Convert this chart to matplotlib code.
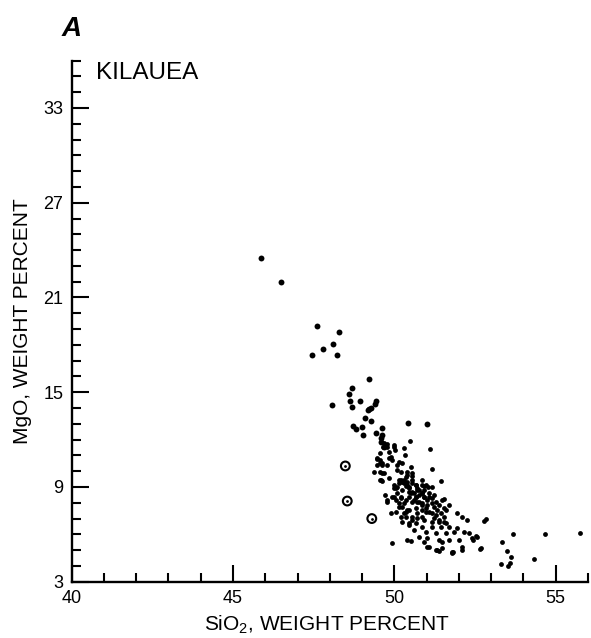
import numpy as np
import matplotlib
matplotlib.use("Agg")
import matplotlib.pyplot as plt
from matplotlib.ticker import MultipleLocator

plt.rcParams["font.family"] = ["Liberation Sans", "DejaVu Sans"]
plt.rcParams["mathtext.fontset"] = "custom"
plt.rcParams["mathtext.rm"] = "Liberation Sans"
plt.rcParams["mathtext.it"] = "Liberation Sans:italic"

# ── Data: SiO2 vs MgO, weight percent ───────────────────────────────────────
# picritic / high-MgO samples (larger dots)
big_sio2 = [45.86, 46.48, 47.59, 48.27, 48.11, 47.80, 47.44, 48.21, 49.20, 48.70,
            48.58, 48.08, 48.64, 48.70, 48.95, 49.44, 49.41, 49.20, 49.26, 49.10,
            49.26, 49.17, 48.73, 48.82, 49.01, 49.04, 49.44, 49.63, 49.60, 49.63,
            49.60, 49.69, 50.43, 51.02]
big_mgo = [23.50, 21.98, 19.20, 18.81, 18.05, 17.74, 17.36, 17.36, 15.84, 15.27,
           14.89, 14.19, 14.44, 14.06, 14.44, 14.44, 14.25, 13.94, 14.00, 13.37,
           13.18, 13.87, 12.87, 12.68, 12.81, 12.30, 12.42, 12.74, 12.11, 12.30,
           11.85, 11.53, 13.06, 13.00]

# main population (small dots)
sio2 = [50.49, 49.69, 49.78, 50.00, 49.66, 51.11, 50.31, 50.03, 49.84, 49.54,
        50.34, 49.90, 49.94, 49.47, 50.15, 50.25, 50.09, 50.52, 49.63, 49.78,
        51.18, 49.38, 49.69, 50.09, 50.22, 50.40, 49.84, 49.60, 50.37, 50.55,
        50.15, 50.25, 50.40, 50.87, 51.45, 50.00, 50.09, 50.37, 50.46, 50.68,
        50.93, 51.05, 51.24, 50.06, 50.25, 50.55, 50.77, 50.87, 49.72, 49.94,
        50.22, 50.46, 50.68, 51.08, 51.55, 50.55, 50.99, 51.15, 50.15, 50.31,
        50.40, 50.55, 50.71, 50.46, 50.62, 50.77, 50.93, 50.22, 50.37, 50.55,
        50.71, 50.87, 51.02, 51.48, 51.70, 50.25, 50.46, 50.68, 50.84, 50.99,
        51.15, 51.30, 51.61, 51.95, 52.10, 52.26, 52.78, 52.85, 50.31, 50.55,
        50.71, 50.93, 51.15, 51.39, 51.55, 51.70, 51.95, 51.86, 52.16, 52.32,
        52.41, 50.46, 50.68, 50.87, 51.18, 51.45, 50.62, 50.99, 51.30, 51.61,
        51.02, 50.77, 51.39, 51.48, 51.70, 52.01, 52.57, 50.40, 50.52, 51.08,
        51.33, 51.48, 51.77, 51.79, 52.10, 52.10, 52.69, 50.37, 50.15, 49.78,
        50.00, 50.06, 50.15, 49.90, 50.06, 50.22, 50.37, 50.25, 50.46, 50.55,
        51.02, 51.30, 51.39, 50.93, 49.94, 49.54, 49.54, 49.63, 49.47, 49.54,
        49.54, 49.63, 49.47, 49.63, 49.78, 49.84, 49.78, 50.00, 53.68, 54.67,
        55.76, 53.34, 53.49, 53.62, 53.31, 53.52, 53.59, 54.33, 52.66, 52.53,
        51.82, 52.44,
        # dense core
        50.40, 50.55, 50.68, 50.71, 50.84, 50.93, 51.02, 51.15, 51.24, 51.33,
        51.45, 51.55, 50.68, 50.77, 50.87, 50.99, 51.08, 50.52, 50.62, 50.46,
        50.31, 50.22, 50.93, 51.08, 51.18, 51.30, 51.39, 51.55, 50.84, 50.71,
        50.87, 51.24, 51.39, 51.61, 50.09, 50.00, 50.31, 50.40]
mgo = [11.91, 11.78, 11.72, 11.66, 11.53, 11.40, 11.47, 11.34, 11.21, 11.15,
       11.02, 10.90, 10.71, 10.77, 10.58, 10.52, 10.39, 10.26, 10.52, 10.39,
       10.14, 9.94, 9.88, 10.07, 9.94, 9.94, 9.57, 9.44, 9.63, 9.69,
       9.44, 9.31, 9.31, 9.44, 9.37, 9.12, 9.00, 9.06, 9.00, 9.12,
       9.06, 9.00, 8.49, 8.93, 8.81, 8.68, 8.81, 8.62, 8.49, 8.36,
       8.36, 8.36, 8.36, 8.36, 8.24, 9.88, 9.12, 9.00, 9.25, 9.44,
       9.12, 9.25, 8.93, 8.68, 8.62, 8.49, 8.36, 8.30, 8.17, 8.05,
       8.05, 7.98, 7.86, 8.17, 7.86, 7.73, 7.54, 7.67, 7.54, 7.42,
       7.35, 7.22, 7.54, 7.35, 7.10, 6.91, 6.84, 6.97, 7.35, 7.10,
       7.03, 6.91, 6.78, 6.91, 6.78, 6.46, 6.40, 6.15, 6.15, 6.08,
       5.77, 6.59, 6.72, 6.46, 6.46, 6.46, 6.27, 6.15, 6.08, 6.08,
       5.77, 5.83, 5.64, 5.51, 5.64, 5.64, 5.83, 5.64, 5.58, 5.20,
       5.01, 5.13, 4.88, 4.81, 5.20, 5.01, 5.13, 7.42, 7.98, 8.05,
       8.93, 8.17, 7.73, 7.35, 7.42, 7.10, 7.10, 6.78, 6.72, 6.91,
       5.20, 5.01, 4.94, 5.51, 5.45, 9.94, 9.44, 9.37, 10.83, 10.52,
       10.71, 10.39, 10.39, 9.88, 8.17, 10.83, 11.53, 11.53, 6.04, 6.04,
       6.10, 5.51, 4.96, 4.56, 4.14, 3.99, 4.18, 4.44, 5.07, 5.89,
       4.88, 5.64,
       # dense core
       9.76, 9.44, 9.12, 8.81, 8.62, 8.36, 8.17, 7.98, 7.73, 7.54,
       7.35, 7.10, 8.36, 8.05, 7.86, 7.67, 7.42, 8.62, 8.17, 8.93,
       9.25, 9.44, 8.81, 8.62, 8.30, 8.05, 7.86, 7.67, 9.12, 7.35,
       7.10, 7.03, 6.78, 6.72, 8.62, 8.36, 7.98, 7.54]

# circled samples
circ_sio2 = [48.48, 48.54, 49.30]
circ_mgo = [10.33, 8.11, 7.00]

yticks = [3, 9, 15, 21, 27, 33]

fig = plt.figure(figsize=(5.91, 6.38), dpi=100)
ax = fig.add_axes([0.1212, 0.0882, 0.8738, 0.8168])

ax.scatter(sio2, mgo, s=12, c="black", linewidths=0, zorder=3)
ax.scatter(big_sio2, big_mgo, s=18, c="black", linewidths=0, zorder=3)
ax.scatter(circ_sio2, circ_mgo, s=40, facecolors="none", edgecolors="black",
           linewidths=1.5, zorder=3)
ax.scatter(circ_sio2, circ_mgo, s=4, c="black", linewidths=0, zorder=4)

ax.set_xlim(40, 56)
ax.set_ylim(3, 36)
ax.xaxis.set_major_locator(MultipleLocator(5))
ax.xaxis.set_minor_locator(MultipleLocator(1))
ax.yaxis.set_minor_locator(MultipleLocator(1))
ax.set_yticks(yticks)

for side in ["top", "right"]:
    ax.spines[side].set_visible(False)
for side in ["left", "bottom"]:
    ax.spines[side].set_linewidth(1.7)

ax.tick_params(which="both", direction="in", width=1.5, labelsize=13, pad=6)
ax.tick_params(which="major", length=12)
ax.tick_params(which="minor", length=6.5)

ax.set_xlabel("SiO$_2$, WEIGHT PERCENT", fontsize=15, va="top")
ax.set_ylabel("MgO, WEIGHT PERCENT", fontsize=15)
ax.xaxis.set_label_coords(0.494, -0.062)
ax.yaxis.set_label_coords(-0.077, 0.5)

ax.text(0.047, 0.998, "KILAUEA", transform=ax.transAxes, fontsize=17.5,
        va="top", ha="left")
fig.text(0.104, 0.975, "A", fontsize=20, fontweight="bold", fontstyle="italic",
         va="top", ha="left")

fig.savefig("out.png", dpi=100)
